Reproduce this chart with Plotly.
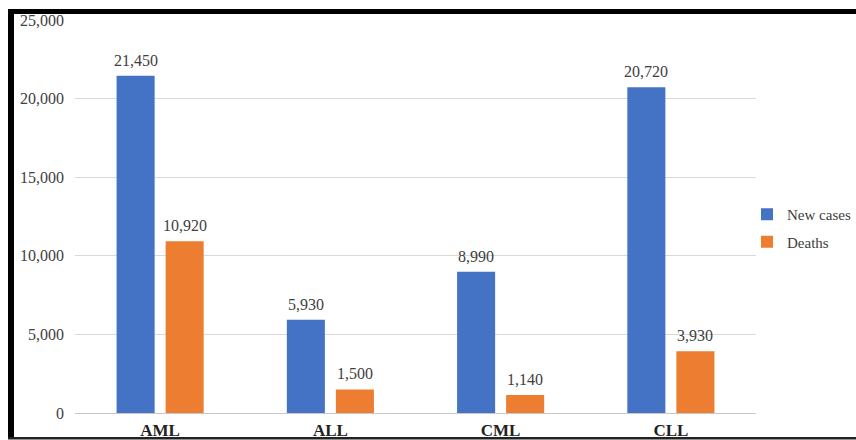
import plotly.graph_objects as go

categories = ["AML", "ALL", "CML", "CLL"]
new_cases = [21450, 5930, 8990, 20720]
deaths = [10920, 1500, 1140, 3930]
series_names = ["New cases", "Deaths"]
y_ticks = [0, 5000, 10000, 15000, 20000, 25000]

BLUE = "#4472C4"
ORANGE = "#ED7D31"
TEXT = "#404040"
FONT = "Liberation Serif"

W, H = 856, 440
ML, MR, MT, MB = 75, 100, 20, 27
PW, PH = W - ML - MR, H - MT - MB


def px_x(x):
    return (x - ML) / PW


def px_y(y):
    return (H - MB - y) / PH


fig = go.Figure()
fig.add_trace(go.Bar(x=categories, y=new_cases, name=series_names[0],
                     marker=dict(color=BLUE, line=dict(width=0)), legendgroup="a"))
fig.add_trace(go.Bar(x=categories, y=deaths, name=series_names[1],
                     marker=dict(color=ORANGE, line=dict(width=0)), legendgroup="b"))

# value labels above each bar
annotations = []
for vals, shift in ((new_cases, -24.5), (deaths, 24.5)):
    for c, v in zip(categories, vals):
        annotations.append(dict(x=c, y=v, xref="x", yref="y", text=f"{v:,}",
                                showarrow=False, xshift=shift, yshift=5,
                                yanchor="bottom",
                                font=dict(family=FONT, size=16, color=TEXT)))

# frame lines around the figure
shapes = [
    dict(type="rect", xref="paper", yref="paper", x0=px_x(8), x1=px_x(W),
         y0=px_y(14), y1=px_y(9), fillcolor="black", line=dict(width=0), layer="above"),
    dict(type="rect", xref="paper", yref="paper", x0=px_x(8), x1=px_x(14),
         y0=px_y(439), y1=px_y(9), fillcolor="black", line=dict(width=0), layer="above"),
    dict(type="rect", xref="paper", yref="paper", x0=px_x(8), x1=px_x(W),
         y0=px_y(439.5), y1=px_y(437), fillcolor="#222222", line=dict(width=0), layer="above"),
]

fig.update_layout(
    width=W, height=H,
    margin=dict(l=ML, r=MR, t=MT, b=MB, autoexpand=False),
    paper_bgcolor="white", plot_bgcolor="white",
    barmode="group", bargap=0.424, bargroupgap=0.224,
    font=dict(family=FONT, size=16, color=TEXT),
    showlegend=True,
    legend=dict(x=px_x(747), y=px_y(198), xanchor="left", yanchor="top",
                font=dict(family=FONT, size=15, color=TEXT),
                tracegroupgap=5, traceorder="grouped",
                bgcolor="rgba(0,0,0,0)", itemwidth=30),
    annotations=annotations,
    shapes=shapes,
)
fig.update_xaxes(showgrid=False, showline=False, ticks="", automargin=False,
                 tickfont=dict(family=FONT, size=17, color="#222222", weight="bold"),
                 ticklabelstandoff=5)
fig.update_yaxes(range=[0, 25000], tickvals=y_ticks, tickformat=",",
                 showgrid=True, gridcolor="#d9d9d9", gridwidth=1, automargin=False,
                 zeroline=True, zerolinecolor="#c8c8c8", zerolinewidth=1,
                 showline=False, ticks="", ticklabelstandoff=10,
                 tickfont=dict(family=FONT, size=16, color=TEXT))

fig.write_html("out.html")
